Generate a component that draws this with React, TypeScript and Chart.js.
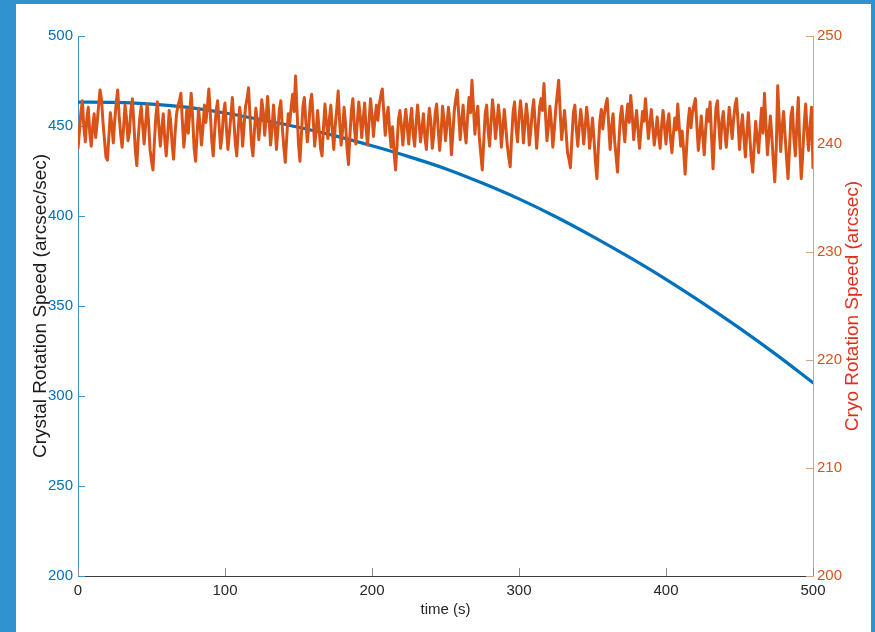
import React, { useEffect, useRef } from 'react';
import { Chart, registerables } from 'chart.js';

Chart.register(...registerables);

// ---- data ----
const crystalTimes = [0, 25, 50, 75, 100, 125, 150, 175, 200, 225, 250, 275, 300, 325, 350, 375, 400, 425, 450, 475, 500];
const crystalSpeed = [463.3, 463.1, 462.2, 460.3, 457.2, 453.4, 449.3, 444.5, 439.0, 433.0, 426.3, 418.3, 409.5, 399.6, 388.7, 377.1, 364.8, 351.6, 337.7, 323.0, 307.4];

// Cryo rotation speed, one sample per second from 0 s to 500 s
const cryoSpeed = [
  239.6, 241.2, 243.0, 244.0, 241.5, 240.2, 242.3, 243.4, 241.0, 239.8,
  241.6, 242.8, 240.6, 241.9, 243.5, 245.0, 244.1, 242.0, 240.4, 238.8,
  238.5, 240.7, 242.9, 241.8, 240.1, 242.2, 243.8, 245.0, 242.6, 240.9,
  239.7, 241.5, 243.6, 242.4, 240.3, 241.1, 243.2, 244.2, 241.9, 239.4,
  238.0, 240.6, 242.4, 243.5, 241.7, 240.0, 241.8, 243.7, 242.1, 239.5,
  238.4, 237.6, 240.3, 242.6, 243.9, 241.6, 239.8, 241.4, 242.8, 240.5,
  238.9, 240.8, 243.1, 242.2, 240.0, 238.6, 240.9, 242.7, 243.6, 244.0,
  244.7, 242.1, 239.7, 241.3, 243.2, 241.0, 242.9, 244.7, 242.4, 239.6,
  238.4, 240.9, 243.3, 241.8, 239.9, 241.5, 243.6, 242.0, 243.4, 245.1,
  242.9, 240.3, 238.9, 241.2, 243.1, 244.0, 241.7, 239.6, 240.8, 242.9,
  243.8, 241.4, 239.5, 241.0, 242.6, 244.3, 242.2, 240.1, 238.9, 241.3,
  243.4, 242.0, 239.8, 241.7, 243.5, 244.2, 245.2, 242.6, 240.0, 238.9,
  241.2, 243.3, 242.1, 240.4, 242.0, 244.1, 243.0, 240.8, 242.5, 244.4,
  242.3, 239.9, 241.4, 243.6, 241.8, 239.5, 241.3, 243.2, 244.0, 241.5,
  239.7, 238.3, 240.6, 242.8, 241.9, 243.4, 244.6, 243.0, 246.3, 243.1,
  240.0, 238.4, 240.9, 243.5, 244.3, 242.0, 240.2, 241.6, 243.8, 244.6,
  242.3, 239.8, 241.2, 243.1, 241.4, 239.6, 238.9, 241.5, 243.7, 242.0,
  240.5, 242.3, 243.6, 241.3, 239.5, 241.7, 243.2, 244.9, 242.1, 239.9,
  241.3, 243.4, 241.9, 239.6, 238.1, 240.8, 243.1, 244.2, 241.6, 240.0,
  242.0, 243.9, 242.5, 240.6, 242.3, 243.8, 241.4, 239.9, 242.1, 244.2,
  242.6, 240.7, 242.4, 243.6, 242.2, 243.7, 244.5, 245.1, 243.0, 240.8,
  242.5, 243.4, 241.2, 239.7, 241.6, 239.3, 237.6, 239.8, 242.3, 243.1,
  241.6, 239.9, 241.8, 243.2, 241.5, 240.0, 242.1, 243.3, 240.9, 239.8,
  241.9, 243.6, 242.0, 240.2, 241.4, 242.8, 240.6, 239.5, 241.7, 243.3,
  242.1, 239.6, 240.8, 242.9, 243.7, 241.4, 239.4, 241.0, 243.5, 242.2,
  240.3, 241.8, 243.4, 242.0, 239.0, 240.9, 243.1, 244.2, 245.0, 242.7,
  240.4, 242.2, 243.6, 241.3, 240.1, 242.5, 244.3, 242.9, 245.9, 243.4,
  240.9, 242.6, 243.5, 240.6, 239.1, 237.6, 240.2, 242.8, 243.6, 241.2,
  239.8, 242.0, 244.1, 242.7, 240.5, 241.9, 243.6, 242.2, 239.7, 241.4,
  243.2, 241.6, 239.9, 238.8, 237.9, 240.6, 243.0, 243.9, 241.5, 240.2,
  242.4, 244.0, 242.6, 240.1, 241.8, 243.7, 242.3, 239.9, 241.2, 243.0,
  244.1, 241.9, 239.6, 241.5, 243.4, 244.2, 243.1, 245.6, 242.8, 240.3,
  241.6, 243.5, 242.0, 239.7, 241.3, 243.2, 244.6, 245.9, 243.0, 240.4,
  241.8, 243.1, 241.2, 239.2, 238.6, 237.8, 240.5, 242.9, 243.6, 241.4,
  239.8, 241.6, 243.2, 241.9, 240.0, 241.5, 243.4, 242.1, 239.6, 240.9,
  242.4, 240.5, 238.3, 236.8, 239.7, 242.1, 243.2, 241.4, 242.7, 243.6,
  244.2, 241.8, 239.5, 241.6, 242.8, 240.4, 238.9, 237.4, 240.3, 242.6,
  243.5, 241.6, 240.2, 242.4, 243.7, 242.0, 244.5, 242.8, 240.4, 241.9,
  243.1, 241.2, 239.6, 241.3, 243.0, 242.1, 244.2, 242.4, 240.5, 241.8,
  243.2, 241.6, 239.9, 241.0, 242.5, 240.8, 239.6, 241.7, 243.1, 241.5,
  240.0, 241.9, 242.8, 240.6, 239.2, 240.9, 242.4, 241.3, 243.7, 241.6,
  239.8, 241.2, 239.4, 237.2, 239.6, 242.0, 243.3, 241.5, 242.9, 243.6,
  244.2, 241.7, 239.4, 240.9, 242.6, 240.8, 239.0, 241.4, 243.2, 242.1,
  243.9, 240.6, 237.7, 240.8, 243.4, 244.0, 241.6, 239.6, 242.1, 243.0,
  241.2, 239.7, 241.5, 243.4, 242.0, 240.5, 242.3, 243.6, 244.2, 242.0,
  239.5, 241.4, 242.7, 240.6, 238.8, 241.0, 242.9, 240.7, 238.6, 237.4,
  239.9, 242.1, 240.6, 239.2, 241.4, 243.3, 241.0, 244.7, 241.8, 239.0,
  240.8, 242.6, 240.7, 238.4, 236.5, 239.6, 245.4, 242.3, 239.3, 241.6,
  243.0, 240.8, 238.7, 236.8, 239.5, 242.6, 243.4, 240.5, 238.9, 241.7,
  244.3, 239.8, 236.8, 239.0, 241.8, 243.7, 241.2, 239.4, 241.6, 243.4,
  237.8,
];

const xTickValues = [0, 100, 200, 300, 400, 500];
const leftTickValues = [200, 250, 300, 350, 400, 450, 500];
const rightTickValues = [200, 210, 220, 230, 240, 250];

const xTitle = 'time (s)';
const leftTitle = 'Crystal Rotation Speed (arcsec/sec)';
const rightTitle = 'Cryo Rotation Speed (arcsec)';

// ---- styles ----
const BLUE = '#0072BD';
const ORANGE = '#D95319';
const FONT = "'Liberation Sans', Arial, Helvetica, sans-serif";

const axisDecor = {
  id: 'axisDecor',
  beforeDatasetsDraw(chart: any) {
    const { ctx, chartArea: a, scales } = chart;
    ctx.save();
    ctx.lineWidth = 1;
    ctx.strokeStyle = '#3f8fc8';
    scales.yL.ticks.forEach((t: any) => {
      const y = Math.round(scales.yL.getPixelForValue(t.value)) + 0.5;
      ctx.beginPath();
      ctx.moveTo(a.left, y);
      ctx.lineTo(a.left + 7, y);
      ctx.stroke();
    });
    ctx.strokeStyle = '#d9a07a';
    scales.yR.ticks.forEach((t: any) => {
      const y = Math.round(scales.yR.getPixelForValue(t.value)) + 0.5;
      ctx.beginPath();
      ctx.moveTo(a.right - 7, y);
      ctx.lineTo(a.right, y);
      ctx.stroke();
    });
    ctx.strokeStyle = '#8a8a8a';
    scales.x.ticks.forEach((t: any) => {
      const x = Math.round(scales.x.getPixelForValue(t.value)) + 0.5;
      ctx.beginPath();
      ctx.moveTo(x, a.bottom);
      ctx.lineTo(x, a.bottom - 8);
      ctx.stroke();
    });
    ctx.restore();
  },
  afterDraw(chart: any) {
    const { ctx, chartArea: a } = chart;
    ctx.save();
    ctx.translate(837, (a.top + a.bottom) / 2);
    ctx.rotate(-Math.PI / 2);
    ctx.font = `19px ${FONT}`;
    ctx.fillStyle = '#de2f1c';
    ctx.textAlign = 'center';
    ctx.textBaseline = 'middle';
    ctx.fillText(rightTitle, 0, 0);
    ctx.restore();
  },
};

export default function App() {
  const canvasRef = useRef<HTMLCanvasElement | null>(null);

  useEffect(() => {
    const canvas = canvasRef.current;
    if (!canvas) return;
    const chart = new Chart(canvas, {
      type: 'line',
      data: {
        datasets: [
          {
            label: 'Cryo',
            data: cryoSpeed.map((v, i) => ({ x: i, y: v })),
            yAxisID: 'yR',
            borderColor: ORANGE,
            borderWidth: 3,
            pointRadius: 0,
            tension: 0,
            borderJoinStyle: 'round',
            borderCapStyle: 'round',
            order: 0,
          },
          {
            label: 'Crystal',
            data: crystalTimes.map((t, i) => ({ x: t, y: crystalSpeed[i] })),
            yAxisID: 'yL',
            borderColor: BLUE,
            borderWidth: 3.2,
            pointRadius: 0,
            cubicInterpolationMode: 'monotone',
            borderCapStyle: 'round',
            order: 1,
          },
        ],
      },
      options: {
        responsive: false,
        animation: false,
        events: [],
        layout: { padding: { top: 32, left: 0, right: 0, bottom: 0 } },
        plugins: {
          legend: { display: false },
          tooltip: { enabled: false },
          title: { display: false },
        },
        scales: {
          x: {
            type: 'linear',
            position: 'bottom',
            min: 0,
            max: 500,
            afterBuildTicks: (s: any) => { s.ticks = xTickValues.map((v) => ({ value: v })); },
            afterFit: (s: any) => { s.height = 56; },
            grid: { display: true, drawOnChartArea: false, drawTicks: false },
            border: { display: true, color: '#3c3c3c', width: 1 },
            ticks: { color: '#262626', padding: 6, font: { family: FONT, size: 15 }, maxRotation: 0, autoSkip: false },
            title: { display: true, text: xTitle, color: '#262626', font: { family: FONT, size: 15 }, padding: { top: 0, bottom: 13 } },
          },
          yL: {
            type: 'linear',
            position: 'left',
            min: 200,
            max: 500,
            afterBuildTicks: (s: any) => { s.ticks = leftTickValues.map((v) => ({ value: v })); },
            afterFit: (s: any) => { s.width = 62; },
            grid: { display: true, drawOnChartArea: false, drawTicks: false },
            border: { display: true, color: '#3f8fc8', width: 1 },
            ticks: { color: BLUE, padding: 5, font: { family: FONT, size: 15 }, autoSkip: false },
            title: { display: true, text: leftTitle, color: '#1a1a1a', font: { family: FONT, size: 19 }, padding: { top: 13, bottom: 0 } },
          },
          yR: {
            type: 'linear',
            position: 'right',
            min: 200,
            max: 250,
            afterBuildTicks: (s: any) => { s.ticks = rightTickValues.map((v) => ({ value: v })); },
            afterFit: (s: any) => { s.width = 58; },
            grid: { display: true, drawOnChartArea: false, drawTicks: false },
            border: { display: true, color: '#d9a07a', width: 1 },
            ticks: { color: ORANGE, padding: 4, font: { family: FONT, size: 15 }, autoSkip: false },
          },
        },
      },
      plugins: [axisDecor],
    } as any);
    return () => chart.destroy();
  }, []);

  return (
    <div style={{ position: 'fixed', left: 0, top: 0, width: 875, height: 632, background: '#3093cf', overflow: 'hidden' }}>
      <div style={{ position: 'absolute', left: 16, top: 4, width: 855, height: 628, background: '#ffffff' }}>
        <canvas ref={canvasRef} width={855} height={628} style={{ display: 'block', width: 855, height: 628 }} />
      </div>
    </div>
  );
}
